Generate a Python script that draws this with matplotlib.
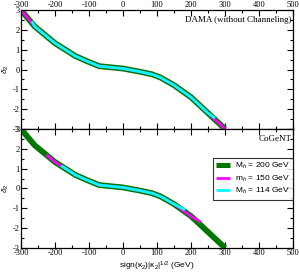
import numpy as np
import matplotlib
matplotlib.use("Agg")
import matplotlib.pyplot as plt
from matplotlib.ticker import MultipleLocator

plt.rcParams['axes.unicode_minus'] = False
plt.rcParams['font.family'] = 'Liberation Serif'
plt.rcParams['mathtext.fontset'] = 'custom'
plt.rcParams['mathtext.rm'] = 'Liberation Sans'
plt.rcParams['mathtext.it'] = 'Liberation Sans:italic'

# delta_2 vs sign(k2)|k2|^1/2
x_200 = [-300, -260, -200, -140, -107, -70, 0, 50, 85, 110, 150, 200, 250, 300]
y_200 = [3.0, 2.18, 1.33, 0.68, 0.43, 0.17, 0.05, -0.11, -0.24, -0.4, -0.79, -1.4, -2.2, -3.0]

# top panel (DAMA)
x_dama_150 = x_200
y_dama_150 = y_200
x_dama_114 = [-268, -260, -200, -140, -107, -70, 0, 50, 85, 110, 150, 200, 250, 270]
y_dama_114 = [2.44, 2.18, 1.33, 0.68, 0.43, 0.17, 0.05, -0.11, -0.24, -0.4, -0.79, -1.4, -2.2, -2.45]

# bottom panel (CoGeNT)
x_cog_150 = [-225, -200, -140, -107, -70, 0, 50, 85, 110, 150, 200, 228]
y_cog_150 = [1.7, 1.33, 0.68, 0.43, 0.17, 0.05, -0.11, -0.24, -0.4, -0.79, -1.4, -1.7]
x_cog_114 = [-182, -140, -107, -70, 0, 50, 85, 110, 150, 182]
y_cog_114 = [1.15, 0.68, 0.43, 0.17, 0.05, -0.11, -0.24, -0.4, -0.79, -1.08]

labels = ['M$_h$ = 200 GeV', 'm$_h$ = 150 GeV', 'M$_h$ = 114 GeV']
colors = ['#007800', '#ff00ff', '#00ffff']

fig, (ax1, ax2) = plt.subplots(2, 1, figsize=(3.0, 2.73), dpi=100, sharex=True)
fig.subplots_adjust(left=0.07, right=0.977, top=0.963, bottom=0.092, hspace=0)

ax1.plot(x_200, y_200, color=colors[0], lw=4.2, solid_capstyle='butt')
ax1.plot(x_dama_150, y_dama_150, color=colors[1], lw=2.0, solid_capstyle='butt')
ax1.plot(x_dama_114, y_dama_114, color=colors[2], lw=2.0, solid_capstyle='butt')

l1, = ax2.plot(x_200, y_200, color=colors[0], lw=4.2, solid_capstyle='butt')
l2, = ax2.plot(x_cog_150, y_cog_150, color=colors[1], lw=2.0, solid_capstyle='butt')
l3, = ax2.plot(x_cog_114, y_cog_114, color=colors[2], lw=2.0, solid_capstyle='butt')

for ax in (ax1, ax2):
    ax.set_xlim(-300, 500)
    ax.set_ylim(-3, 3)
    ax.xaxis.set_major_locator(MultipleLocator(100))
    ax.xaxis.set_minor_locator(MultipleLocator(50))
    ax.yaxis.set_major_locator(MultipleLocator(1))
    ax.yaxis.set_minor_locator(MultipleLocator(0.5))
    ax.tick_params(which='both', direction='in', top=True, right=True, labelsize=6, pad=1)
    ax.tick_params(which='major', length=4, width=0.8)
    ax.tick_params(which='minor', length=2, width=0.8)
    ax.set_ylabel(r'$\delta_2$', fontsize=6, labelpad=1)
    for s in ax.spines.values():
        s.set_linewidth(0.9)

ax1.tick_params(axis='x', labeltop=True, labelbottom=False)
ax2.tick_params(axis='x', labeltop=False, labelbottom=True)

ax1.text(0.995, 0.95, 'DAMA (without Channeling)', transform=ax1.transAxes,
         ha='right', va='top', fontsize=6.5)
ax2.text(0.995, 0.95, 'CoGeNT', transform=ax2.transAxes,
         ha='right', va='top', fontsize=6.5)

ax2.set_xlabel('sign(κ$_2$)|κ$_2$|$^{1/2}$ (GeV)', family='Liberation Sans', fontsize=6, labelpad=2)

leg = ax2.legend([l1, l2, l3], labels, loc='upper right', bbox_to_anchor=(1.0, 0.76),
                 prop={'family': 'Liberation Sans', 'size': 6}, frameon=True, fancybox=False,
                 edgecolor='black', handlelength=1.6, handletextpad=0.6, borderpad=0.4,
                 labelspacing=0.3, borderaxespad=0)
leg.get_frame().set_linewidth(0.8)
leg.legend_handles[0].set_linewidth(3.6)

fig.savefig('out.png', dpi=100)
